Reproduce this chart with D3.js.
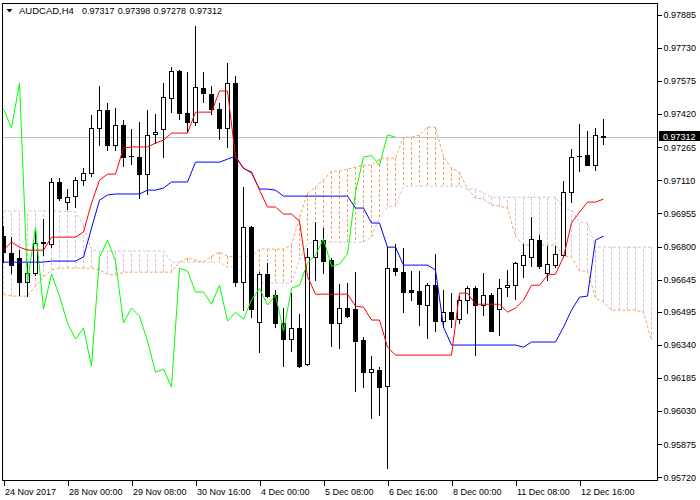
<!DOCTYPE html>
<html><head><meta charset="utf-8">
<script src="https://cdn.jsdelivr.net/npm/d3@7"></script>
<style>
body{margin:0;background:#fff;}
svg{display:block;font-family:"Liberation Sans",Arial,sans-serif;}
</style>
</head><body>
<svg id="chart" width="700" height="500"></svg>
<script>
// ---------- data ----------
const symbol = "AUDCAD,H4";
const headerValues = ["0.97317", "0.97398", "0.97278", "0.97312"];
const bidPrice = 0.97312;
const bidLabel = "0.97312";

const opens = [0.96849,0.96769,0.96746,0.96633,0.96676,0.96818,0.96811,0.97102,0.97008,0.97036,
0.97111,0.97144,0.97355,0.97439,0.97275,0.97369,0.97223,0.97219,0.97139,0.97326,
0.97350,0.97495,0.97621,0.97425,0.97383,0.97542,0.97514,0.97443,0.97355,0.97565,
0.96633,0.96891,0.96446,0.96671,0.96573,0.96442,0.96367,0.96418,0.96250,0.96751,
0.96830,0.96737,0.96442,0.96512,0.96507,0.96362,0.96212,0.96222,0.96147,0.96699,
0.96680,0.96596,0.96591,0.96526,0.96619,0.96451,0.96493,0.96460,0.96549,0.96605,
0.96526,0.96573,0.96507,0.96610,0.96619,0.96713,0.96751,0.96830,0.96676,0.96713,
0.96760,0.97055,0.97223,0.97228,0.97181,0.97317];
const highs = [0.96896,0.96844,0.96783,0.96722,0.96877,0.96928,0.97120,0.97120,0.97069,0.97125,
0.97167,0.97415,0.97551,0.97472,0.97448,0.97392,0.97350,0.97383,0.97439,0.97420,
0.97565,0.97640,0.97626,0.97617,0.97832,0.97617,0.97551,0.97472,0.97659,0.97598,
0.97078,0.96896,0.96680,0.96722,0.96596,0.96512,0.96582,0.96484,0.96793,0.96914,
0.96886,0.96746,0.96624,0.96629,0.96680,0.96376,0.96287,0.96236,0.96797,0.96811,
0.96793,0.96685,0.96685,0.96629,0.96765,0.96596,0.96582,0.96568,0.96615,0.96615,
0.96676,0.96582,0.96648,0.96690,0.96727,0.96811,0.96938,0.96854,0.96802,0.96802,
0.97106,0.97256,0.97373,0.97340,0.97355,0.97398];
const lows = [0.96727,0.96676,0.96573,0.96568,0.96666,0.96760,0.96797,0.97017,0.96975,0.96985,
0.97088,0.97130,0.97275,0.97252,0.97252,0.97177,0.97186,0.97027,0.97046,0.97284,
0.97219,0.97429,0.97397,0.97336,0.97369,0.97476,0.97420,0.97303,0.97266,0.96615,
0.96502,0.96470,0.96306,0.96563,0.96423,0.96240,0.96310,0.96236,0.96245,0.96643,
0.96676,0.96334,0.96325,0.96470,0.96123,0.96142,0.95997,0.96011,0.95763,0.96666,
0.96493,0.96549,0.96432,0.96371,0.96404,0.96423,0.96423,0.96442,0.96488,0.96292,
0.96479,0.96404,0.96385,0.96568,0.96554,0.96657,0.96708,0.96699,0.96643,0.96704,
0.96751,0.97008,0.97153,0.97181,0.97158,0.97278];
const closes = [0.96774,0.96713,0.96633,0.96676,0.96816,0.96821,0.97102,0.97027,0.97031,0.97111,
0.97144,0.97355,0.97439,0.97275,0.97369,0.97219,0.97223,0.97139,0.97322,0.97336,
0.97500,0.97621,0.97425,0.97383,0.97546,0.97518,0.97443,0.97355,0.97565,0.96633,
0.96891,0.96507,0.96671,0.96568,0.96442,0.96367,0.96418,0.96240,0.96751,0.96830,
0.96732,0.96442,0.96512,0.96474,0.96357,0.96212,0.96226,0.96142,0.96699,0.96685,
0.96587,0.96587,0.96530,0.96619,0.96451,0.96493,0.96460,0.96549,0.96605,0.96526,
0.96573,0.96404,0.96605,0.96619,0.96722,0.96760,0.96835,0.96708,0.96718,0.96765,
0.97055,0.97219,0.97226,0.97181,0.97322,0.97312];

const tenkan = [0.96783,0.96821,0.96797,0.96783,0.96783,0.96783,0.96844,0.96844,0.96844,0.96844,
0.96868,0.97003,0.97111,0.97139,0.97139,0.97261,0.97266,0.97266,0.97266,0.97284,
0.97298,0.97331,0.97331,0.97331,0.97429,0.97429,0.97429,0.97528,0.97528,0.97219,
0.97165,0.97150,0.97064,0.96985,0.96985,0.96952,0.96952,0.96919,0.96660,0.96577,
0.96577,0.96577,0.96577,0.96577,0.96521,0.96516,0.96456,0.96456,0.96329,0.96292,
0.96292,0.96292,0.96292,0.96292,0.96292,0.96292,0.96292,0.96582,0.96582,0.96530,
0.96530,0.96530,0.96530,0.96493,0.96512,0.96549,0.96619,0.96619,0.96666,0.96671,
0.96751,0.96910,0.96961,0.97008,0.97008,0.97022];
const kijun = [0.96727,0.96727,0.96727,0.96727,0.96727,0.96727,0.96732,0.96732,0.96732,0.96732,
0.96751,0.96886,0.97017,0.97041,0.97046,0.97046,0.97046,0.97046,0.97064,0.97064,
0.97074,0.97102,0.97102,0.97102,0.97195,0.97195,0.97195,0.97195,0.97209,0.97223,
0.97167,0.97144,0.97069,0.97069,0.97064,0.97036,0.97036,0.97036,0.97036,0.97036,
0.97036,0.97036,0.97036,0.97036,0.96980,0.96980,0.96910,0.96910,0.96797,0.96797,
0.96713,0.96713,0.96713,0.96713,0.96690,0.96423,0.96339,0.96339,0.96339,0.96339,
0.96339,0.96339,0.96339,0.96339,0.96339,0.96329,0.96353,0.96353,0.96353,0.96353,
0.96423,0.96502,0.96563,0.96568,0.96830,0.96849];
const chikouShift = 26;
const spanA = [0.96577,0.96568,0.96568,0.96568,0.96615,0.96657,0.96690,0.96699,0.96699,0.96699,
0.96699,0.96699,0.96690,0.96671,0.96666,0.96680,0.96680,0.96680,0.96680,0.96680,
0.96680,0.96680,0.96727,0.96746,0.96737,0.96727,0.96755,0.96774,0.96755,0.96751,
0.96755,0.96755,0.96788,0.96788,0.96788,0.96788,0.96807,0.96935,0.97050,0.97078,
0.97111,0.97153,0.97153,0.97163,0.97172,0.97181,0.97181,0.97209,0.97214,0.97214,
0.97312,0.97312,0.97322,0.97359,0.97359,0.97219,0.97167,0.97149,0.97069,0.97027,
0.97022,0.96994,0.96989,0.96980,0.96849,0.96807,0.96807,0.96807,0.96807,0.96807,
0.96755,0.96751,0.96685,0.96685,0.96559,0.96540,0.96502,0.96502,0.96502,0.96502,
0.96493,0.96362];
const spanB = [0.96966,0.96966,0.96966,0.96966,0.96966,0.96966,0.96966,0.96966,0.96966,0.96961,
0.96900,0.96783,0.96779,0.96779,0.96779,0.96779,0.96779,0.96779,0.96779,0.96779,
0.96779,0.96727,0.96727,0.96727,0.96727,0.96727,0.96727,0.96727,0.96704,0.96704,
0.96676,0.96657,0.96629,0.96629,0.96629,0.96629,0.96629,0.96737,0.96816,0.96821,
0.96821,0.96821,0.96821,0.96821,0.96821,0.96821,0.96844,0.96938,0.96985,0.96989,
0.97083,0.97083,0.97083,0.97083,0.97083,0.97083,0.97083,0.97083,0.97069,0.97069,
0.97050,0.97031,0.97031,0.97031,0.97031,0.97031,0.97031,0.97031,0.97031,0.97031,
0.96980,0.96971,0.96914,0.96910,0.96797,0.96797,0.96797,0.96797,0.96797,0.96797,
0.96797,0.96797];

const yTickLabels = ["0.97885","0.97730","0.97575","0.97420","0.97265","0.97110","0.96955",
  "0.96800","0.96645","0.96495","0.96340","0.96185","0.96030","0.95875","0.95720"];
const xTickIndex = [0, 8, 16, 24, 32, 40, 48, 56, 64, 72];
const xTickLabels = ["24 Nov 2017","28 Nov 00:00","29 Nov 08:00","30 Nov 16:00","4 Dec 00:00",
  "5 Dec 08:00","6 Dec 16:00","8 Dec 00:00","11 Dec 08:00","12 Dec 16:00"];

// ---------- layout ----------
const frame = {l: 2.5, r: 657.5, t: 3.5, b: 480.5};
const svg = d3.select("#chart");
const x = d3.scaleLinear().domain([0, 1]).range([3.5, 11.5]);
const y = d3.scaleLinear().domain([0.95720, 0.97885]).range([477.3, 14.7]);
const py = v => Math.round(y(v)) + 0.5;
const colA = "#F4A460", colB = "#D8BFD8";

svg.append("rect").attr("width", 700).attr("height", 500).attr("fill", "#fff");
svg.append("defs").append("clipPath").attr("id", "clip")
  .append("rect").attr("x", 3).attr("y", 4).attr("width", 654).attr("height", 476);

const plot = svg.append("g").attr("clip-path", "url(#clip)");

// cloud hatching
const nCloud = Math.min(spanA.length, spanB.length);
const hatch = d3.range(nCloud).map(j => ({j, a: spanA[j], b: spanB[j]}));
plot.append("g").selectAll("line").data(hatch).join("line")
  .attr("x1", d => x(d.j)).attr("x2", d => x(d.j))
  .attr("y1", d => y(d.a)).attr("y2", d => y(d.b))
  .attr("stroke", d => d.a >= d.b ? colA : colB)
  .attr("stroke-width", 1).attr("stroke-dasharray", "3,2")
  .attr("shape-rendering", "crispEdges");

// span lines
const line = d3.line().x((d, i) => x(i)).y(d => y(d));
plot.append("path").datum(spanB).attr("d", line).attr("fill", "none")
  .attr("stroke", colB).attr("stroke-dasharray", "3,2").attr("stroke-width", 1);
plot.append("path").datum(spanA).attr("d", line).attr("fill", "none")
  .attr("stroke", colA).attr("stroke-dasharray", "3,2").attr("stroke-width", 1);

// bid line
plot.append("line").attr("x1", 3).attr("x2", 657)
  .attr("y1", py(bidPrice)).attr("y2", py(bidPrice))
  .attr("stroke", "#C0C0C0").attr("shape-rendering", "crispEdges");

// candles
const bars = closes.map((c, i) => ({i, o: opens[i], h: highs[i], l: lows[i], c}));
const cg = plot.append("g").attr("shape-rendering", "crispEdges");
cg.selectAll("line.wick").data(bars).join("line").attr("class", "wick")
  .attr("x1", d => x(d.i)).attr("x2", d => x(d.i))
  .attr("y1", d => py(d.h) - 0.5).attr("y2", d => py(d.l) + 0.5)
  .attr("stroke", "#000");
bars.forEach(d => {
  const top = Math.round(y(Math.max(d.o, d.c)));
  const bot = Math.round(y(Math.min(d.o, d.c)));
  if (bot - top < 1) {
    cg.append("line").attr("x1", x(d.i) - 2.5).attr("x2", x(d.i) + 2.5)
      .attr("y1", top + 0.5).attr("y2", top + 0.5).attr("stroke", "#000");
  } else {
    cg.append("rect").attr("x", x(d.i) - 2).attr("y", top + 0.5)
      .attr("width", 4).attr("height", bot - top)
      .attr("fill", d.c > d.o ? "#fff" : "#000").attr("stroke", "#000");
  }
});

// indicator lines
const chikou = closes.slice(chikouShift);
plot.append("path").datum(chikou).attr("d", line).attr("fill", "none")
  .attr("stroke", "#00FF00").attr("stroke-width", 1);
plot.append("path").datum(kijun).attr("d", line).attr("fill", "none")
  .attr("stroke", "#0000FF").attr("stroke-width", 1);
plot.append("path").datum(tenkan).attr("d", line).attr("fill", "none")
  .attr("stroke", "#FF0000").attr("stroke-width", 1);

// frame
svg.append("rect").attr("x", frame.l).attr("y", frame.t)
  .attr("width", frame.r - frame.l).attr("height", frame.b - frame.t)
  .attr("fill", "none").attr("stroke", "#000").attr("shape-rendering", "crispEdges");

// y axis
const yAxis = d3.axisRight(y)
  .tickValues(yTickLabels.map(Number))
  .tickFormat((d, i) => yTickLabels[i])
  .tickSize(4).tickPadding(2);
const ya = svg.append("g").attr("transform", `translate(${frame.r},0)`).call(yAxis);
ya.select(".domain").remove();
ya.selectAll("line").attr("stroke", "#000").attr("shape-rendering", "crispEdges");
ya.selectAll("text").attr("font-size", 9).attr("fill", "#000")
  .attr("font-family", "'Liberation Sans',Arial,sans-serif");

// bid label
svg.append("rect").attr("x", 659).attr("y", Math.round(y(bidPrice)) - 6)
  .attr("width", 41).attr("height", 10).attr("fill", "#000");
svg.append("text").attr("x", 663).attr("y", Math.round(y(bidPrice)) + 2.5)
  .attr("font-size", 9).attr("fill", "#fff").text(bidLabel);

// x axis
const xAxis = d3.axisBottom(x)
  .tickValues(xTickIndex)
  .tickFormat((d, i) => xTickLabels[i])
  .tickSize(5).tickPadding(3);
const xa = svg.append("g").attr("transform", `translate(0,${frame.b})`).call(xAxis);
xa.select(".domain").remove();
xa.selectAll("line").attr("stroke", "#000").attr("shape-rendering", "crispEdges");
xa.selectAll("text").attr("font-size", 9).attr("fill", "#000")
  .attr("text-anchor", "start").attr("dx", 1)
  .attr("font-family", "'Liberation Sans',Arial,sans-serif");

// header
svg.append("path").attr("d", "M6.5,9 L12.5,9 L9.5,12.5 Z").attr("fill", "#000");
svg.append("text").attr("x", 19).attr("y", 14).attr("font-size", 9.5).attr("fill", "#000").text(symbol);
svg.append("g").selectAll("text").data(headerValues).join("text")
  .attr("x", (d, i) => 82 + i * 35.8).attr("y", 14)
  .attr("font-size", 9).attr("fill", "#000").text(d => d);
</script>
</body></html>
